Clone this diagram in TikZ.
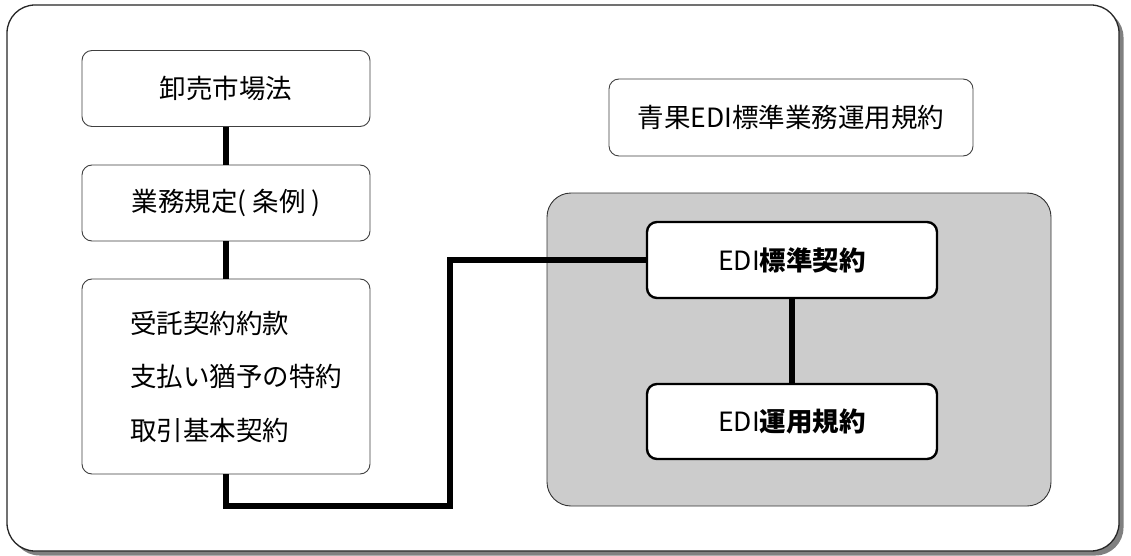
\documentclass[tikz,border=0pt]{standalone}
\usepackage{fontspec}
\setmainfont{Noto Sans CJK JP}
\usepackage{tikz}
\usetikzlibrary{shadows}
\tikzset{%
  mybox/.style={rectangle, rounded corners=10pt, draw=black!75, line width=0.9pt, fill=white,
    minimum width=288pt, minimum height=76pt, inner sep=0pt, font=\fontsize{26.5}{30}\selectfont},
  myedibox/.style={mybox, draw=black, line width=2.4pt, minimum width=290pt},
  myedge/.style={line width=6.5pt, line join=miter}
}

\begin{document}
\begin{tikzpicture}[x=1pt, y=-1pt]
\useasboundingbox (0,0) rectangle (1131,556);

% 外枠
\draw [rounded corners=28pt, draw=black!85, line width=1.3pt, fill=white,
  drop shadow={shadow xshift=4.5pt, shadow yshift=-4.5pt, fill=black!50, opacity=1}]
  (7,5) rectangle (1119,551);

% 灰色の枠
\draw [rounded corners=24pt, draw=black!80, line width=0.9pt, fill=black!20]
  (547,193) rectangle (1051,506);

\node (A) [mybox] at (226,88.5) {卸売市場法};
\node (B) [mybox] at (226,203) {業務規定( 条例 )};
\node (C) [mybox, minimum height=195pt, text width=192pt, align=left,
  font=\fontsize{26.5}{53.5}\selectfont] at (226,376.5)
  {受託契約約款\\支払い猶予の特約\\取引基本契約};

\node (D) [mybox, minimum width=364pt, minimum height=77pt] at (791,117.5) {青果EDI標準業務運用規約};

\node (E) [myedibox] at (792,260) {EDI\textbf{標準契約}};
\node (F) [myedibox, minimum height=75pt] at (792,421.5) {EDI\textbf{運用規約}};

\coordinate (K1) at (226,506);
\coordinate (K2) at (450,506);
\coordinate (K3) at (450,260);

\draw [myedge] (A) -- (B);
\draw [myedge] (B) -- (C);
\draw [myedge] (E) -- (F);

% パス
\draw [myedge] (C) -- (K1) -- (K2) -- (K3) -- (E);
\end{tikzpicture}
\end{document}
